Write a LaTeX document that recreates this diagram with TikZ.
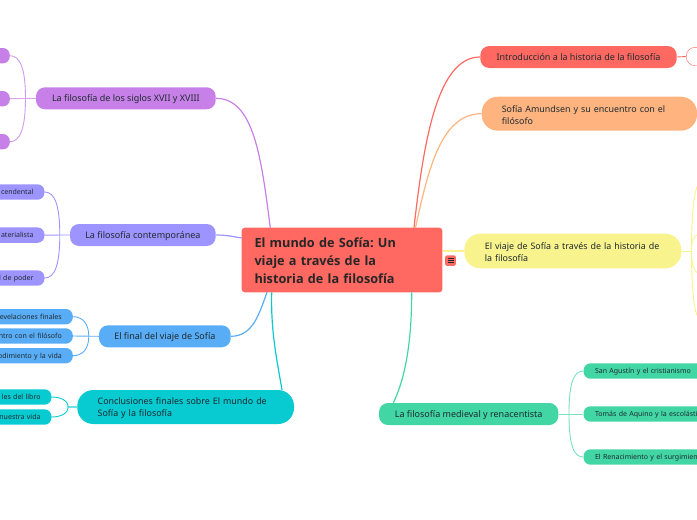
\documentclass[tikz,border=0pt]{standalone}
\usepackage{fontspec}
\setmainfont{Noto Sans}
\newfontfamily\rootfont{Open Sans}
\frenchspacing

\definecolor{redmap}{HTML}{FF6961}
\definecolor{orangemap}{HTML}{FFB480}
\definecolor{yellowmap}{HTML}{F8F38D}
\definecolor{greenmap}{HTML}{42D6A4}
\definecolor{tealmap}{HTML}{08CAD1}
\definecolor{bluemap}{HTML}{59ADF6}
\definecolor{violetmap}{HTML}{9D94FF}
\definecolor{purplemap}{HTML}{C780E8}
\definecolor{inkmap}{HTML}{1F2A30}

\tikzset{
	topic/.style = {rounded corners=9pt, inner sep=0pt, text depth=0pt, minimum height=22pt, text=inkmap, font=\fontsize{9}{12}\selectfont},
	longtopic/.style = {rounded corners=16pt, inner sep=0pt, minimum height=34pt, text=inkmap, font=\fontsize{8.9}{12}\selectfont, align=left, execute at begin node={\rule{0pt}{9pt}}},
	leaf/.style = {rounded corners=7pt, inner sep=0pt, text depth=0pt, minimum height=15.4pt, text=inkmap, font=\fontsize{7}{9}\selectfont},
	leftleaf/.style = {leaf, anchor=east, minimum width=120pt, text width=98pt, align=right},
	rightleaf/.style = {leaf, anchor=west, minimum width=150pt, text width=127pt, align=left},
	branch/.style = {line width=1.2pt},
	twig/.style = {line width=0.9pt}
}

\begin{document}
\begin{tikzpicture}[x=1pt, y=-1pt]

	\useasboundingbox (0,0) rectangle (697,520);

	% root
	\node [fill=redmap, rounded corners=3pt, minimum width=200.6pt, minimum height=64.6pt, inner sep=0pt, text width=175pt, align=left, font=\rootfont\fontsize{12.7}{18.2}\selectfont\bfseries, text=black!85, execute at begin node={\rule{0pt}{11.5pt}}] (root) at (342,260) {El mundo de Sofía: Un\\viaje a través de la\\historia de la filosofía};
	\node [fill=redmap, rounded corners=1.5pt, minimum size=10.6pt, inner sep=0pt] (menu) at (450.5,260.6) {};
	\foreach \y in {-2,0,2} \draw [inkmap, line width=0.8pt] ([shift={(-3,\y)}]menu.center) -- ([shift={(3,\y)}]menu.center);

	% left topics
	\node [topic, fill=purplemap, minimum width=179.7pt] (siglos) at (125.85,98.3) {La filosofía de los siglos XVII y XVIII};
	\node [topic, fill=violetmap, minimum width=145.7pt] (contemp) at (142.85,235) {La filosofía contemporánea};
	\node [topic, fill=bluemap, minimum width=131.7pt] (final) at (164.85,336.3) {El final del viaje de Sofía};
	\node [longtopic, fill=tealmap, minimum width=216.7pt, text width=176pt] (concl) at (185.65,407) {Conclusiones finales sobre El mundo de\\Sofía y la filosofía};

	% right topics
	\node [topic, fill=redmap, minimum width=196.4pt] (intro) at (578.5,57) {Introducción a la historia de la filosofía};
	\node [longtopic, fill=orangemap, minimum width=215.3pt, text width=175pt] (amundsen) at (589.35,113.7) {Sofía Amundsen y su encuentro con el\\filósofo};
	\node [longtopic, fill=yellowmap, minimum width=217pt, minimum height=34.6pt, text width=176pt] (viaje) at (572.8,251) {El viaje de Sofía a través de la historia de\\la filosofía};
	\node [topic, fill=greenmap, minimum width=179.3pt] (medieval) at (468.65,414) {La filosofía medieval y renacentista};

	% leaves cut by the page edge
	\node [leftleaf, fill=purplemap] (sigA) at (10,55.7) {};
	\node [leftleaf, fill=purplemap] (sigB) at (10,98.7) {};
	\node [leftleaf, fill=purplemap] (sigC) at (10,141.7) {};
	\node [leftleaf, fill=violetmap] (conA) at (44.7,192) {cendental};
	\node [leftleaf, fill=violetmap] (conB) at (44.7,235.1) {aterialista};
	\node [leftleaf, fill=violetmap] (conC) at (44.7,278) {l de poder};
	\node [leftleaf, fill=bluemap] (finA) at (73,316.7) {evelaciones finales};
	\node [leftleaf, fill=bluemap] (finB) at (73,336) {ntro con el filósofo};
	\node [leftleaf, fill=bluemap] (finC) at (73,355.7) {odimiento y la vida};
	\node [leftleaf, fill=tealmap] (cloA) at (51.7,397) {les del libro};
	\node [leftleaf, fill=tealmap] (cloB) at (51.7,417) {nuestra vida};
	\node [rightleaf, fill=greenmap] (medA) at (583.3,371) {San Agustín y el cristianismo};
	\node [rightleaf, fill=greenmap] (medB) at (583.3,414) {Tomás de Aquino y la escolásti};
	\node [rightleaf, fill=greenmap] (medC) at (583.3,457) {El Renacimiento y el surgimien};
	\node [leaf, draw=redmap, fill=white, anchor=west, minimum width=60pt, minimum height=18.4pt, rounded corners=9pt] (intA) at (686,56.5) {};

	% free ends
	\coordinate (fromsig) at (270.3,227.7);
	\coordinate (fromcon) at (241.7,238);
	\coordinate (fromfin) at (267,292.3);
	\coordinate (fromclo) at (271.7,292.3);
	\coordinate (fromint) at (414,227.7);
	\coordinate (fromsof) at (415.5,227.7);
	\coordinate (frommed) at (411.7,292.3);
	\coordinate (toclo) at (282,390);
	\coordinate (tomed) at (393.3,403);
	\coordinate (viaA) at (703,180);
	\coordinate (viaB) at (701,234);
	\coordinate (viaC) at (701,274);
	\coordinate (viaD) at (703,322);

	% branches from the root
	\draw [purplemap, branch] (siglos.east) .. controls +(38,0) and +(-9,-70) .. (fromsig);
	\draw [violetmap, branch] (contemp.east) .. controls +(10,0) and +(-12,-2) .. (fromcon);
	\draw [bluemap, branch] (final.east) .. controls +(22,0) and +(-8,22) .. (fromfin);
	\draw [tealmap, branch] (toclo) .. controls +(-5,-30) and +(-1,40) .. (fromclo);
	\draw [redmap, branch] (intro.west) .. controls +(-42,0) and +(10,-90) .. (fromint);
	\draw [orangemap, branch] (amundsen.west) .. controls +(-40,0) and +(13,-60) .. (fromsof);
	\draw [yellowmap, branch] (root.east |- viaje.west) -- (viaje.west);
	\draw [greenmap, branch] (tomed) .. controls +(12,-25) and +(0,50) .. (frommed);

	% branches to the leaves
	\draw [purplemap!70, twig] (siglos.west) -- (sigB.east);
	\draw [violetmap, twig] (contemp.west) -- (conB.east);
	\draw [bluemap, twig] (final.west) -- (finB.east);
	\draw [greenmap!70, twig] (medieval.east) -- (medB.west);
	\foreach \leafname/\lift in {sigA/-30,sigC/30} \draw [purplemap!80, twig] (siglos.west) ++(-10.3,0) .. controls +(0,\lift) and +(10,0) .. (\leafname.east);
	\foreach \leafname/\lift in {conA/-30,conC/30} \draw [violetmap, twig] (contemp.west) ++(-10,0) .. controls +(0,\lift) and +(10,0) .. (\leafname.east);
	\foreach \leafname/\lift in {finA/-12,finC/12} \draw [bluemap, twig] (final.west) ++(-10,0) .. controls +(0,\lift) and +(10,0) .. (\leafname.east);
	\foreach \leafname/\lift in {cloA/-7,cloB/7} \draw [tealmap, twig] (concl.west) -- ++(-9,0) .. controls +(0,\lift) and +(8,0) .. (\leafname.east);
	\foreach \leafname/\lift in {medA/-30,medC/30} \draw [greenmap!70, twig] (medieval.east) ++(10.5,0) .. controls +(0,\lift) and +(-10,0) .. (\leafname.west);
	\draw [redmap, twig] (intro.east) -- (intA.west);
	\draw [yellowmap, twig] (viaje.east) -- ++(10,0);
	\foreach \leafname/\lift in {viaA/-45,viaB/-10,viaC/10,viaD/45} \draw [yellowmap, twig] (viaje.east) ++(10,0) .. controls +(0,\lift) and +(-8,0) .. (\leafname);

\end{tikzpicture}
\end{document}
